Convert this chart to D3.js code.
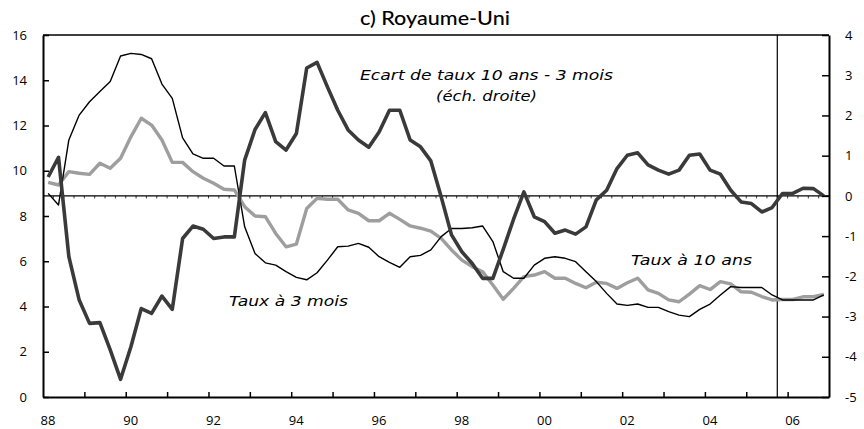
<!DOCTYPE html>
<html><head><meta charset="utf-8">
<script src="https://cdn.jsdelivr.net/npm/d3@7"></script>
<style>body{margin:0;background:#fff}svg{display:block}</style>
</head><body>
<svg id="c" width="864" height="429"></svg>
<script>
// Quarterly data 1988Q1 .. 2006Q4
const startYear = 1988, endYear = 2007;
const quarters = d3.range(76).map(i => startYear + Math.floor(i/4) + "Q" + (i%4+1));
const taux3m = [9.0,8.49,11.36,12.46,13.05,13.5,13.94,15.07,15.19,15.14,14.95,13.83,13.2,11.45,10.75,10.55,10.55,10.21,10.21,7.52,6.34,5.93,5.83,5.54,5.29,5.18,5.49,6.05,6.64,6.67,6.79,6.62,6.2,5.95,5.73,6.2,6.26,6.5,7.09,7.45,7.45,7.48,7.56,6.87,5.54,5.25,5.25,5.83,6.13,6.2,6.13,5.98,5.54,5.1,4.58,4.11,4.05,4.11,3.96,3.96,3.77,3.62,3.55,3.87,4.11,4.51,4.88,4.84,4.84,4.84,4.51,4.29,4.29,4.29,4.29,4.51];
const taux10a = [9.49,9.37,9.96,9.89,9.84,10.33,10.11,10.55,11.5,12.32,12.02,11.36,10.37,10.37,9.96,9.67,9.45,9.18,9.15,8.41,8.0,7.97,7.23,6.64,6.76,8.33,8.78,8.74,8.74,8.27,8.12,7.79,7.79,8.12,7.85,7.56,7.46,7.33,7.01,6.5,6.05,5.76,5.54,4.95,4.32,4.8,5.32,5.39,5.54,5.25,5.25,5.02,4.83,5.07,5.02,4.8,5.05,5.25,4.73,4.58,4.29,4.21,4.55,4.92,4.75,5.1,5.0,4.65,4.63,4.44,4.29,4.31,4.31,4.43,4.43,4.53];
const ecart = [0.47,0.96,-1.51,-2.59,-3.17,-3.15,-3.83,-4.56,-3.75,-2.8,-2.92,-2.49,-2.82,-1.06,-0.75,-0.83,-1.06,-1.02,-1.02,0.89,1.65,2.07,1.35,1.14,1.55,3.18,3.32,2.71,2.13,1.64,1.39,1.21,1.59,2.13,2.13,1.39,1.22,0.87,-0.02,-0.97,-1.39,-1.68,-2.05,-2.05,-1.33,-0.58,0.1,-0.52,-0.64,-0.93,-0.85,-0.95,-0.77,-0.1,0.14,0.68,1.01,1.07,0.77,0.64,0.54,0.64,1.01,1.04,0.64,0.54,0.14,-0.15,-0.19,-0.4,-0.29,0.06,0.06,0.19,0.18,0.0];
const leftTicks = [0,2,4,6,8,10,12,14,16];
const rightTicks = [-5,-4,-3,-2,-1,0,1,2,3,4];
const yearLabels = ["88","90","92","94","96","98","00","02","04","06"];
const forecastStart = 2005.75;

const svg = d3.select("#c");
const L = 43, R = 829, T = 35, B = 397;
const x = d3.scaleLinear().domain([startYear, endYear]).range([L, R]);
const yL = d3.scaleLinear().domain([0, 16]).range([B, T]);
const yR = d3.scaleLinear().domain([-5, 4]).range([B, T]);
const xq = i => x(startYear + (i + 0.5) / 4);
const font = "'Open Sans', 'DejaVu Sans', sans-serif";

// zero line (right scale) with quarterly minor ticks
svg.append("line").attr("x1", L).attr("x2", R).attr("y1", yR(0)).attr("y2", yR(0))
  .attr("stroke", "#000").attr("stroke-width", 1.2);
svg.append("g").selectAll("line").data(d3.range(1, 76)).join("line")
  .attr("x1", i => x(startYear + i/4)).attr("x2", i => x(startYear + i/4))
  .attr("y1", yR(0)).attr("y2", yR(0) + 2.5).attr("stroke", "#000").attr("stroke-width", 0.8);

// vertical forecast line
svg.append("line").attr("x1", x(forecastStart)).attr("x2", x(forecastStart)).attr("y1", T).attr("y2", B)
  .attr("stroke", "#000").attr("stroke-width", 1.2);

const lineL = d3.line().x((d, i) => xq(i)).y(d => yL(d));
const lineR = d3.line().x((d, i) => xq(i)).y(d => yR(d));
svg.append("path").datum(taux10a).attr("d", lineL).attr("fill", "none")
  .attr("stroke", "#9e9e9e").attr("stroke-width", 3.4).attr("stroke-linejoin", "round");
svg.append("path").datum(taux3m).attr("d", lineL).attr("fill", "none")
  .attr("stroke", "#000").attr("stroke-width", 1.4).attr("stroke-linejoin", "round");
svg.append("path").datum(ecart).attr("d", lineR).attr("fill", "none")
  .attr("stroke", "#3a3a3a").attr("stroke-width", 3.6).attr("stroke-linejoin", "round");

// frame
svg.append("line").attr("x1", L).attr("x2", R).attr("y1", T).attr("y2", T).attr("stroke", "#000").attr("stroke-width", 1.5);

// axes
const axL = svg.append("g").attr("transform", `translate(${L},0)`)
  .call(d3.axisLeft(yL).tickValues(leftTicks).tickSizeInner(-6).tickSizeOuter(0).tickPadding(16));
const axR = svg.append("g").attr("transform", `translate(${R},0)`)
  .call(d3.axisRight(yR).tickValues(rightTicks).tickSizeInner(-7).tickSizeOuter(0).tickPadding(16));
const axB = svg.append("g").attr("transform", `translate(0,${B})`)
  .call(d3.axisBottom(x).tickValues(d3.range(1989, 2007)).tickFormat(() => "").tickSizeInner(-5).tickSizeOuter(0));
[axL, axR, axB].forEach(g => {
  g.select(".domain").attr("stroke", "#000").attr("stroke-width", 2);
  g.selectAll(".tick line").attr("stroke", "#000").attr("stroke-width", 1.5);
  g.selectAll("text").attr("font-family", font).attr("font-size", 13).attr("fill", "#000");
});
axR.selectAll(".tick text").text(d => d < 0 ? "-" + Math.abs(d) : d);

// year labels
svg.append("g").selectAll("text").data(yearLabels).join("text")
  .attr("x", (d, i) => x(startYear + 2*i) + 5).attr("y", 425)
  .attr("text-anchor", "middle").attr("font-family", font).attr("font-size", 13).text(d => d);

// title
svg.append("text").attr("x", 360).attr("y", 25)
  .attr("font-family", "Lato, 'Open Sans', sans-serif").attr("font-size", 18.5).attr("font-weight", 500)
  .attr("textLength", 150).attr("lengthAdjust", "spacingAndGlyphs").text("c) Royaume-Uni");

// annotations
const ann = (t, xx, yy, w) => svg.append("text").attr("x", xx).attr("y", yy)
  .attr("font-family", "'DejaVu Sans', Verdana, sans-serif").attr("font-style", "italic").attr("font-size", 14)
  .attr("textLength", w).attr("lengthAdjust", "spacingAndGlyphs").text(t);
ann("Ecart de taux 10 ans - 3 mois", 360, 80, 253);
ann("(éch. droite)", 436, 101, 101);
ann("Taux à 3 mois", 229, 306, 119);
ann("Taux à 10 ans", 631, 265, 121);
</script>
</body></html>
